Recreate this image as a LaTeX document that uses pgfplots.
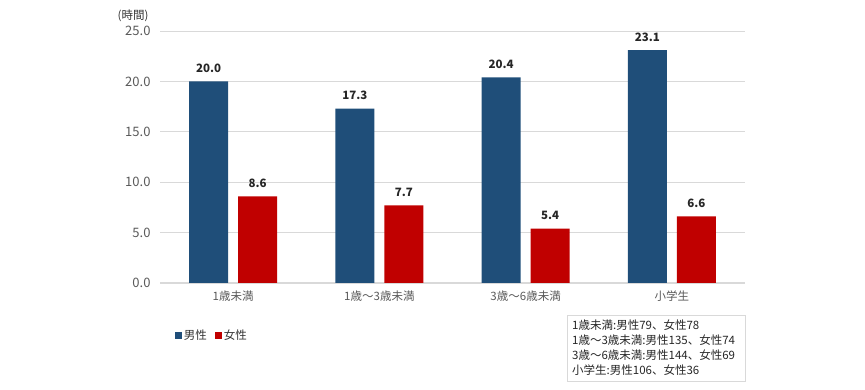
\documentclass[border=0pt]{standalone}
\usepackage{pgfplots}
\pgfplotsset{compat=1.18}
\usepackage{fontspec}
\setmainfont{Noto Sans CJK JP}
\definecolor{mblue}{HTML}{1F4E79}
\definecolor{fred}{HTML}{C00000}
\definecolor{gridc}{HTML}{D9D9D9}
\definecolor{tickc}{HTML}{595959}
\begin{document}
\begin{tikzpicture}[x=1pt,y=1pt]
\path[use as bounding box] (0,0) rectangle (865,390);
\begin{axis}[
  at={(160pt,107pt)}, anchor=south west,
  scale only axis, width=585pt, height=252pt,
  xmin=-0.5, xmax=3.5, ymin=0, ymax=25,
  ytick={0,5,10,15,20,25},
  xtick={0,1,2,3},
  xticklabels={1歳未満,1歳～3歳未満,3歳～6歳未満,小学生},
  ybar=10pt, bar width=39pt,
  axis x line*=bottom, axis y line*=left,
  x axis line style={gridc, line width=1pt},
  y axis line style={draw=none},
  ymajorgrids, grid style={gridc, line width=0.8pt},
  major tick length=0pt,
  /pgf/number format/assume math mode=true,
  yticklabel style={font=\fontsize{13}{14}\selectfont, text=tickc, xshift=-6pt},
  yticklabel={\pgfmathprintnumber[fixed,fixed zerofill,precision=1,assume math mode=true]{\tick}},
  xticklabel style={font=\fontsize{11.5}{13}\selectfont, text=tickc, yshift=-4pt},
  nodes near coords,
  nodes near coords style={font=\bfseries\fontsize{11.5}{13}\selectfont, text=black!85, /pgf/number format/.cd, fixed, fixed zerofill, precision=1, /tikz/.cd, yshift=5pt},
  legend style={at={(0.02,-0.17)}, anchor=north west, draw=none, legend columns=2, font=\fontsize{11.5}{13}\selectfont, text=black!80, /tikz/every even column/.append style={column sep=6pt}},
  legend image code/.code={\fill[#1] (0pt,-3.5pt) rectangle (7pt,3.5pt);},
  clip=false,
]
\addplot[fill=mblue, draw=none] coordinates {(0,20.0) (1,17.3) (2,20.4) (3,23.1)};
\addplot[fill=fred, draw=none] coordinates {(0,8.6) (1,7.7) (2,5.4) (3,6.6)};
\legend{男性,女性}
\end{axis}
\node[font=\fontsize{11.5}{13}\selectfont, text=black!80] at (133,374) {(時間)};
\draw[gridc, line width=1pt] (567,8) rectangle (745,74);
\node[anchor=north west, align=left, font=\fontsize{11.5}{15}\selectfont, text=black!85, inner sep=0pt] at (572,70) {1歳未満:男性79、女性78\\1歳～3歳未満:男性135、女性74\\3歳～6歳未満:男性144、女性69\\小学生:男性106、女性36};
\end{tikzpicture}
\end{document}
